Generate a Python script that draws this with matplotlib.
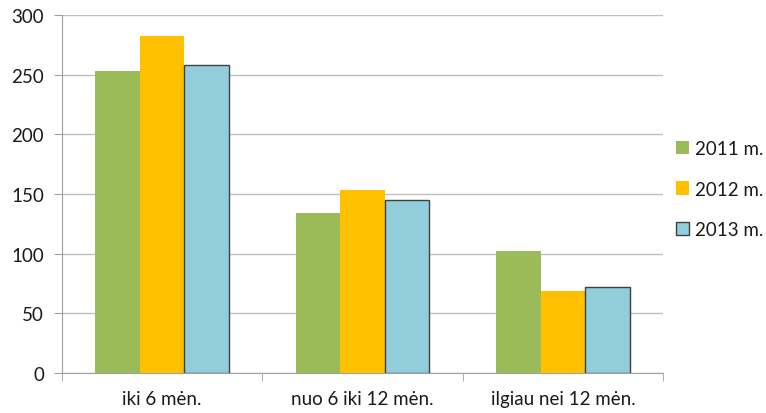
import numpy as np
import matplotlib.pyplot as plt

categories = ['iki 6 mėn.', 'nuo 6 iki 12 mėn.', 'ilgiau nei 12 mėn.']
series_names = ['2011 m.', '2012 m.', '2013 m.']
v2011 = [253, 134, 102]
v2012 = [282, 153, 69]
v2013 = [258, 145, 72]
yticks = [0, 50, 100, 150, 200, 250, 300]

colors = ['#9BBB59', '#FFC000', '#92CDDC']
edges = ['none', 'none', '#404040']

plt.rcParams['font.family'] = ['Lato', 'DejaVu Sans']

fig = plt.figure(figsize=(7.66, 4.14), dpi=100)
ax = fig.add_axes([62 / 766, 40 / 414, 601 / 766, 358 / 414])

x = np.arange(len(categories))
w = 1 / 4.5  # excel-style gap width of 150%
for i, (vals, name) in enumerate(zip([v2011, v2012, v2013], series_names)):
    ax.bar(x + (i - 1) * w, vals, width=w, color=colors[i],
           edgecolor=edges[i], linewidth=1.0, label=name, zorder=3)

ax.set_xlim(-0.5, len(categories) - 0.5)
ax.set_ylim(0, 300)
ax.set_yticks(yticks)
ax.yaxis.grid(True, color='#BFBFBF', linewidth=1.0, zorder=0)
ax.tick_params(axis='y', length=6, color='#A0A0A0', labelsize=13.5, pad=7,
               labelcolor='#1a1a1a')

# category labels at group centres, tick marks at group boundaries
ax.set_xticks(x)
ax.set_xticklabels(categories)
ax.tick_params(axis='x', which='major', length=0, labelsize=13.5, pad=12,
               labelcolor='#1a1a1a')
ax.set_xticks(np.arange(-0.5, len(categories)), minor=True)
ax.tick_params(axis='x', which='minor', length=6, color='#A0A0A0')

for s in ['top', 'right']:
    ax.spines[s].set_visible(False)
for s in ['left', 'bottom']:
    ax.spines[s].set_color('#A0A0A0')

leg = fig.legend(loc='center left', bbox_to_anchor=(0.873, 0.541), frameon=False,
                 fontsize=13.5, handlelength=0.7, handleheight=0.7,
                 handletextpad=0.3, labelspacing=1.25, borderaxespad=0)
for t in leg.get_texts():
    t.set_color('#1a1a1a')

fig.savefig('out.png', dpi=100)
